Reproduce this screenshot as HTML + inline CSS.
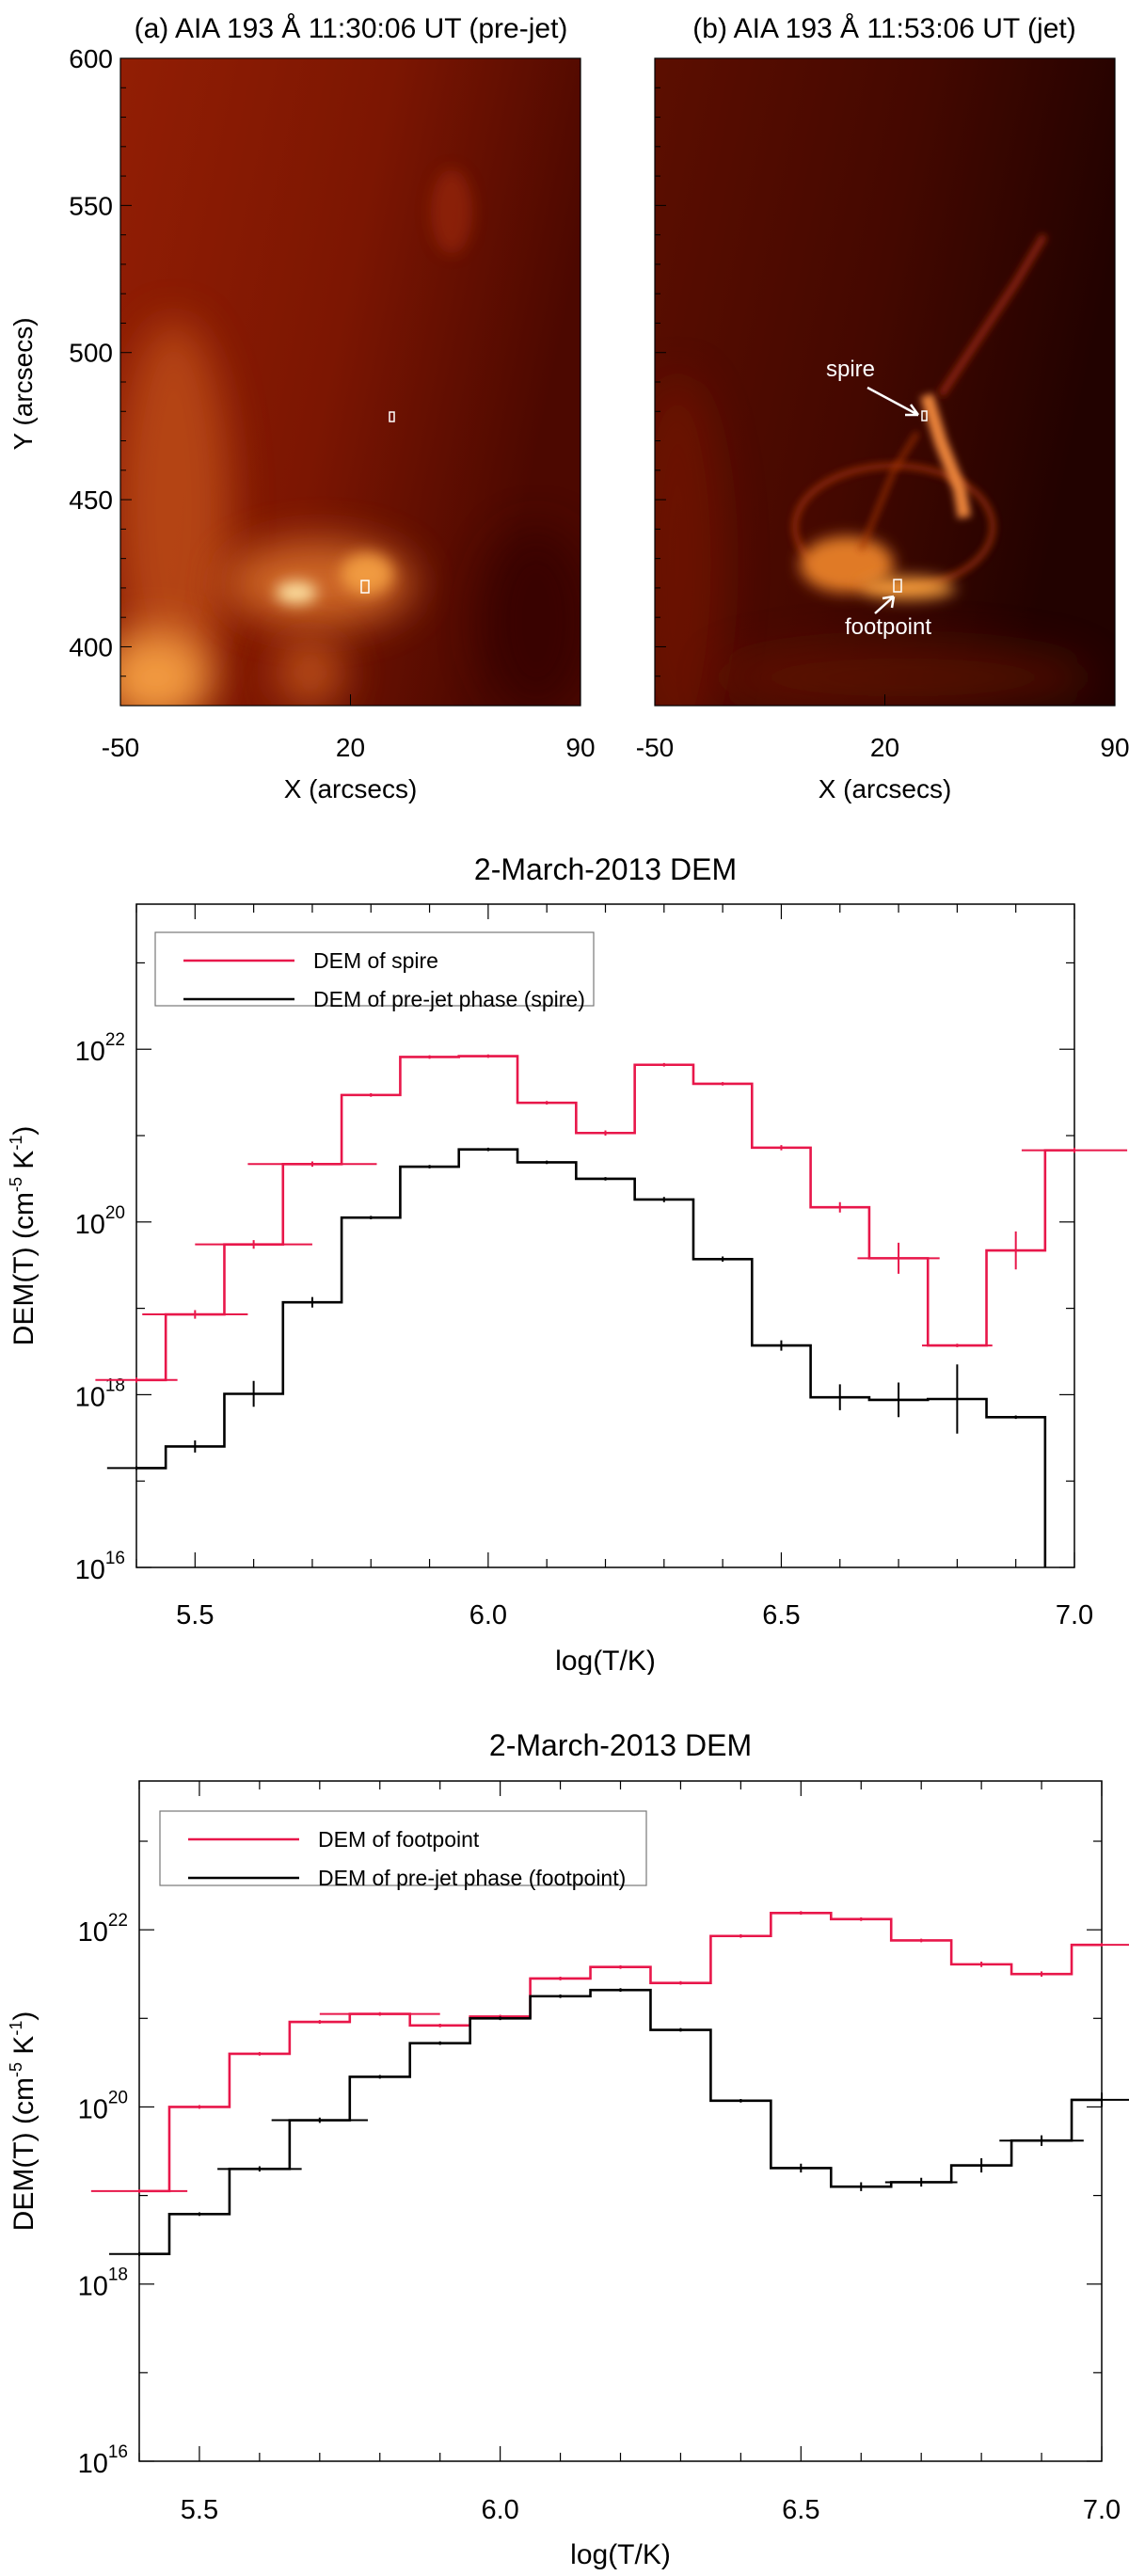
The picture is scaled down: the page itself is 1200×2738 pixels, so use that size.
<!DOCTYPE html>
<html><head><meta charset="utf-8">
<style>
html,body{margin:0;padding:0;background:#fff;}
#root{position:relative;width:1200px;height:2738px;overflow:hidden;font-family:"Liberation Sans",Arial,sans-serif;}
svg text{font-family:"Liberation Sans",Arial,sans-serif;}
</style></head>
<body>
<div id="root">
<svg id="imgs" width="1200" height="880" style="position:absolute;left:0;top:0">
<defs>
<filter id="b8" x="-100%" y="-100%" width="300%" height="300%"><feGaussianBlur stdDeviation="8"/></filter>
<filter id="b20" x="-100%" y="-100%" width="300%" height="300%"><feGaussianBlur stdDeviation="22"/></filter>
<filter id="b4" x="-100%" y="-100%" width="300%" height="300%"><feGaussianBlur stdDeviation="4"/></filter>
<clipPath id="ca"><rect x="128" y="62" width="489" height="688"/></clipPath>
<clipPath id="cb"><rect x="696" y="62" width="489" height="688"/></clipPath>
<linearGradient id="ga" x1="0" y1="0" x2="1" y2="0.3"><stop offset="0" stop-color="#921e04"/><stop offset="0.55" stop-color="#7c1602"/><stop offset="1" stop-color="#4c0800"/></linearGradient>
<linearGradient id="gb" x1="0" y1="0" x2="1" y2="0.3"><stop offset="0" stop-color="#5c0e00"/><stop offset="0.55" stop-color="#440800"/><stop offset="1" stop-color="#220200"/></linearGradient>
</defs>
<text x="373" y="40" font-size="30" text-anchor="middle">(a) AIA 193 Å 11:30:06 UT (pre-jet)</text>
<text x="940" y="40" font-size="30" text-anchor="middle">(b) AIA 193 Å 11:53:06 UT (jet)</text>
<g clip-path="url(#ca)">
<rect x="128" y="62" width="489" height="688" fill="url(#ga)"/>
<ellipse cx="185" cy="540" rx="60" ry="200" fill="#c8561a" opacity="0.7" filter="url(#b20)"/>
<ellipse cx="165" cy="720" rx="60" ry="50" fill="#f29a40" filter="url(#b20)"/>
<ellipse cx="340" cy="620" rx="100" ry="45" fill="#d8702a" opacity="0.9" filter="url(#b20)"/>
<ellipse cx="315" cy="630" rx="22" ry="12" fill="#fde0a0" filter="url(#b8)"/>
<ellipse cx="390" cy="610" rx="28" ry="22" fill="#f09a40" filter="url(#b8)"/>
<ellipse cx="330" cy="715" rx="35" ry="35" fill="#d06020" opacity="0.8" filter="url(#b20)"/>
<ellipse cx="570" cy="660" rx="60" ry="100" fill="#300400" opacity="0.7" filter="url(#b20)"/>
<ellipse cx="480" cy="225" rx="22" ry="45" fill="#a02a0c" opacity="0.6" filter="url(#b8)"/>
<rect x="414" y="438" width="5" height="10" fill="none" stroke="#fff" stroke-width="1.5"/>
<rect x="384" y="617" width="8" height="13" fill="none" stroke="#fff" stroke-width="1.5"/>
</g>
<g clip-path="url(#cb)">
<rect x="696" y="62" width="489" height="688" fill="url(#gb)"/>
<ellipse cx="720" cy="600" rx="50" ry="200" fill="#7a1804" opacity="0.6" filter="url(#b20)"/>
<ellipse cx="960" cy="720" rx="200" ry="35" fill="#6a1404" opacity="0.6" filter="url(#b20)"/>
<ellipse cx="950" cy="560" rx="105" ry="65" fill="none" stroke="#a8340c" stroke-width="6" opacity="0.8" filter="url(#b4)"/>
<ellipse cx="900" cy="600" rx="50" ry="30" fill="#e07a28" filter="url(#b8)"/>
<ellipse cx="965" cy="625" rx="50" ry="12" fill="#f09a3a" filter="url(#b8)"/>
<path d="M985 420 L1000 470 L1020 520 L1025 550" stroke="#e8823a" stroke-width="14" fill="none" filter="url(#b4)"/>
<path d="M1000 420 L1080 300 L1110 250" stroke="#8a240a" stroke-width="8" fill="none" filter="url(#b4)"/>
<path d="M915 585 L950 500 L975 460" stroke="#a8340c" stroke-width="4" fill="none" filter="url(#b4)"/>
<rect x="980" y="437" width="5" height="10" fill="none" stroke="#fff" stroke-width="1.5"/>
<rect x="950" y="616" width="8" height="13" fill="none" stroke="#fff" stroke-width="1.5"/>
<text x="904" y="400" font-size="24" fill="#fff" text-anchor="middle">spire</text>
<path d="M922 412 L976 441 M976 441 L962 441 M976 441 L968 430" stroke="#fff" stroke-width="2.5" fill="none"/>
<text x="944" y="674" font-size="24" fill="#fff" text-anchor="middle">footpoint</text>
<path d="M930 652 L950 634 M950 634 L938 636 M950 634 L948 646" stroke="#fff" stroke-width="2.5" fill="none"/>
</g>
<g id="imgaxes"></g>
</svg>
<svg id="c2" width="1200" height="900" style="position:absolute;left:0;top:880px"></svg>
<svg id="c3" width="1200" height="918" style="position:absolute;left:0;top:1820px"></svg>
</div>
<script>
// ---- chart data: spire (panel c) ----
const temps = [5.4,5.5,5.6,5.7,5.8,5.9,6.0,6.1,6.2,6.3,6.4,6.5,6.6,6.7,6.8,6.9,7.0];
const spireDem = [18.17,18.93,19.74,20.67,21.47,21.91,21.92,21.38,21.03,21.82,21.60,20.86,20.17,19.58,18.57,19.67,20.83];
const spireXerr = [0.07,0.09,0.10,0.11,0.05,0.05,0.05,0.05,0.05,0.05,0.05,0.05,0.05,0.07,0.06,0.05,0.09];
const spireYerr = [0.03,0.05,0.05,0.03,0.02,0.02,0.02,0.02,0.03,0.02,0.02,0.03,0.06,0.18,0.02,0.22,0.03];
const prejetSpireDem = [17.15,17.40,18.01,19.07,20.05,20.64,20.84,20.69,20.50,20.26,19.57,18.57,17.97,17.94,17.95,17.74,14.0];
const prejetSpireXerr = [0.05,0.05,0.05,0.05,0.05,0.05,0.05,0.05,0.05,0.05,0.05,0.05,0.05,0.05,0.05,0.05,0.05];
const prejetSpireYerr = [0.02,0.07,0.15,0.06,0.02,0.02,0.02,0.02,0.02,0.03,0.03,0.06,0.15,0.2,0.4,0.02,0.0];
// ---- chart data: footpoint (panel d) ----
const footDem = [19.05,20.0,20.60,20.96,21.05,20.92,21.02,21.45,21.58,21.40,21.93,22.19,22.12,21.88,21.61,21.50,21.83];
const footXerr = [0.08,0.05,0.05,0.05,0.1,0.05,0.05,0.05,0.05,0.05,0.05,0.05,0.05,0.05,0.05,0.05,0.05];
const footYerr = [0.02,0.02,0.02,0.02,0.02,0.02,0.02,0.02,0.02,0.02,0.02,0.02,0.02,0.02,0.03,0.03,0.02];
const prejetFootDem = [18.34,18.79,19.30,19.85,20.34,20.72,21.0,21.25,21.32,20.87,20.07,19.31,19.10,19.15,19.34,19.62,20.08];
const prejetFootXerr = [0.05,0.05,0.07,0.08,0.05,0.05,0.05,0.05,0.05,0.05,0.05,0.05,0.05,0.06,0.05,0.07,0.05];
const prejetFootYerr = [0.02,0.02,0.03,0.03,0.02,0.02,0.02,0.02,0.02,0.02,0.02,0.05,0.05,0.05,0.08,0.06,0.08];
const xTicks = [5.5,6.0,6.5,7.0];
const xTickLabels = ["5.5","6.0","6.5","7.0"];
const yTicks = [16,18,20,22];
const imgXTicks = [-50,20,90];
const imgYTicks = [400,450,500,550,600];

const NS="http://www.w3.org/2000/svg";
function mk(p,tag,at){const e=document.createElementNS(NS,tag);for(const k in at)e.setAttribute(k,at[k]);p.appendChild(e);return e;}

function chart(svg,o){
  const L=o.L,R=o.R,T=o.T,B=o.B;
  const X=v=>L+(v-5.4)/(7.0-5.4)*(R-L);
  const Y=v=>B-(v-16)/(23.68-16)*(B-T);
  let t=mk(svg,'text',{x:(L+R)/2,y:o.titleY,'font-size':32,'text-anchor':'middle'});t.textContent='2-March-2013 DEM';
  
  
  const ax=mk(svg,'rect',{x:L,y:T,width:R-L,height:B-T,fill:'none',stroke:'#000','stroke-width':1.5});
  
  
  for(let v=5.4;v<=7.001;v+=0.1){const x=X(v);const maj=Math.abs((v*2)-Math.round(v*2))<0.01;const len=maj?16:9;
    mk(svg,'line',{x1:x,y1:B,x2:x,y2:B-len,stroke:'#000','stroke-width':1.2});
    mk(svg,'line',{x1:x,y1:T,x2:x,y2:T+len,stroke:'#000','stroke-width':1.2});}
  xTicks.forEach((v,i)=>{const tt=mk(svg,'text',{x:X(v),y:o.tickY,'font-size':29,'text-anchor':'middle'});tt.textContent=xTickLabels[i];
    
    });
  for(let v=16;v<=23;v+=1){const y=Y(v);const len=(v%2==0)?16:9;
    mk(svg,'line',{x1:L,y1:y,x2:L+len,y2:y,stroke:'#000','stroke-width':1.2});
    mk(svg,'line',{x1:R,y1:y,x2:R-len,y2:y,stroke:'#000','stroke-width':1.2});}
  yTicks.forEach(v=>{const tt=mk(svg,'text',{x:L-12,y:Y(v)+12,'font-size':29,'text-anchor':'end'});
    
    
    const a=mk(tt,'tspan',{});a.textContent='10';const b=mk(tt,'tspan',{dy:-16,'font-size':19});b.textContent=String(v);});
  const yt=mk(svg,'text',{x:0,y:0,'font-size':30,'text-anchor':'middle',transform:`translate(${o.ytX},${(T+B)/2}) rotate(-90)`});
  
  
  yt.innerHTML='DEM(T)  (cm<tspan dy="-12" font-size="18">-5</tspan><tspan dy="12"> K</tspan><tspan dy="-12" font-size="18">-1</tspan><tspan dy="12">)</tspan>';
  const xt=mk(svg,'text',{x:(L+R)/2,y:o.xtY,'font-size':30,'text-anchor':'middle'});xt.textContent='log(T/K)';
  
  
  const cp='cl'+svg.id;const d=mk(svg,'defs',{});const c=mk(d,'clipPath',{id:cp});mk(c,'rect',{x:0,y:T,width:1200,height:B-T});
  o.series.forEach(s=>{
    const g=mk(svg,'g',{'clip-path':`url(#${cp})`,stroke:s.color,'stroke-width':2.6,fill:'none'});
    
    
    let p='';
    temps.forEach((t,i)=>{const x0=X(Math.max(t-0.05,5.4)),x1=X(Math.min(t+0.05,7.0)),y=Y(s.v[i]);
      p+=(i==0?'M':'L')+x0+' '+y+' L'+x1+' '+y;});
    if(s.tail){p+=' L'+X(6.95)+' '+(B+5);}
    mk(g,'path',{d:p});
    temps.forEach((t,i)=>{const y=Y(s.v[i]);
      const e=mk(g,'path',{d:`M${X(t-s.xe[i])} ${y} L${X(t+s.xe[i])} ${y} M${X(t)} ${Y(s.v[i]-s.ye[i])} L${X(t)} ${Y(s.v[i]+s.ye[i])}`,'stroke-width':2});
      
      });
  });
  const lg=mk(svg,'g',{});
  
  
  mk(lg,'rect',{x:o.lg[0],y:o.lg[1],width:o.lg[2],height:o.lg[3],fill:'#fff',stroke:'#777','stroke-width':1.2});
  o.series.forEach((s,i)=>{const y=o.lg[1]+30+i*41;
    mk(lg,'line',{x1:o.lg[0]+30,x2:o.lg[0]+148,y1:y,y2:y,stroke:s.color,'stroke-width':2.6});
    const tt=mk(lg,'text',{x:o.lg[0]+168,y:y+8,'font-size':23});tt.textContent=s.label;
    
    });
}
chart(document.getElementById('c2'),{L:145,R:1142,T:81,B:786,titleY:55,tickY:846,xtY:895,ytX:35,lg:[165,111,466,78],
 series:[{name:'spire-series',label:'DEM of spire',color:'#e8174a',v:spireDem,xe:spireXerr,ye:spireYerr},
         {name:'prejet-spire-series',label:'DEM of pre-jet phase (spire)',color:'#000',v:prejetSpireDem,xe:prejetSpireXerr,ye:prejetSpireYerr,tail:true}]});
chart(document.getElementById('c3'),{L:148,R:1171,T:73,B:796,titleY:46,tickY:857,xtY:905,ytX:35,lg:[170,105,517,79],
 series:[{name:'footpoint-series',label:'DEM of footpoint',color:'#e8174a',v:footDem,xe:footXerr,ye:footYerr},
         {name:'prejet-footpoint-series',label:'DEM of pre-jet phase (footpoint)',color:'#000',v:prejetFootDem,xe:prejetFootXerr,ye:prejetFootYerr}]});
// image axes
(function(){
  const g=document.getElementById('imgaxes');
  [128,696].forEach((L,pi)=>{
    const R=L+489,T=62,B=750;
    const X=v=>L+(v+50)/140*(R-L);
    const Y=v=>B-(v-380)/220*(B-T);
    mk(g,'rect',{x:L,y:T,width:R-L,height:B-T,fill:'none',stroke:'#000','stroke-width':1.2});
    for(let v=390;v<=600;v+=10){const len=(v%50==0)?12:6;mk(g,'line',{x1:L,x2:L+len,y1:Y(v),y2:Y(v),stroke:'#000','stroke-width':1});}
    imgXTicks.forEach(v=>{mk(g,'line',{x1:X(v),x2:X(v),y1:B,y2:B-12,stroke:'#000','stroke-width':1});
      const t=mk(g,'text',{x:X(v),y:804,'font-size':28,'text-anchor':'middle'});t.textContent=String(v);
      
      });
    const xt=mk(g,'text',{x:(L+R)/2,y:848,'font-size':28,'text-anchor':'middle'});xt.textContent='X (arcsecs)';
    
    
    if(pi==0){
      imgYTicks.forEach(v=>{const t=mk(g,'text',{x:L-8,y:Y(v)+10,'font-size':28,'text-anchor':'end'});t.textContent=String(v);
        
        });
      const yt=mk(g,'text',{x:0,y:0,'font-size':28,'text-anchor':'middle',transform:`translate(34,408) rotate(-90)`});yt.textContent='Y (arcsecs)';
      
      
    }
  });
})();
</script>
</body></html>
